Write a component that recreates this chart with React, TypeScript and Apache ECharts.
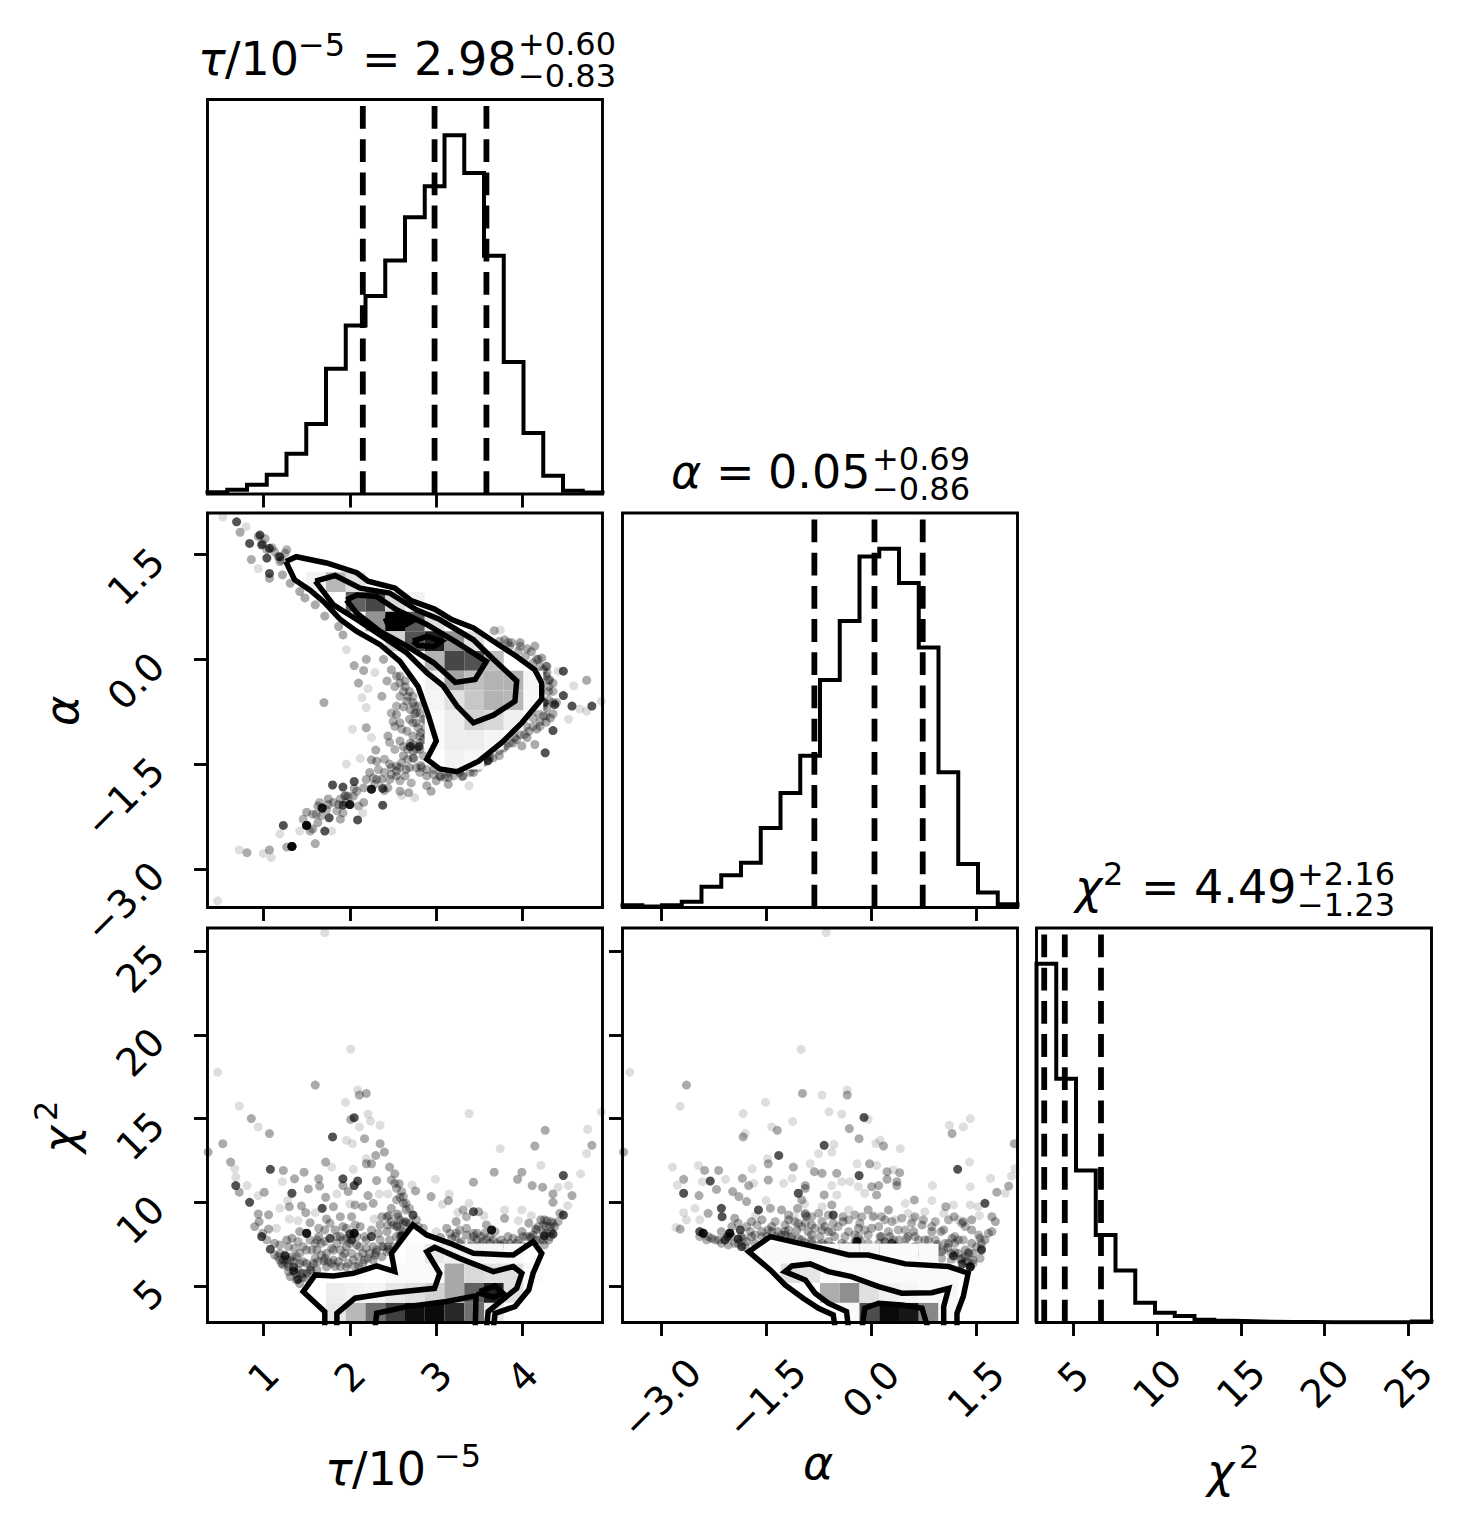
import React, { useEffect, useRef } from "react";
import * as echarts from "echarts";

const FONT = "DejaVu Sans";
const tauRange = [0.353, 4.923];
const alphaRange = [-3.555, 2.096];
const chiRange = [2.82, 26.38];
const chiRangeX = [2.8, 26.38];
const tauTicks = [1, 2, 3, 4];
const alphaTicks = [-3, -1.5, 0, 1.5];
const chiTicks = [5, 10, 15, 20, 25];

const tauHist = [0.5, 1.2, 2.6, 5.4, 11.2, 19.5, 34.9, 47, 55.2, 65.1, 77.2, 85.8, 100, 89.5, 66.4, 36.8, 17, 5.1, 0.9, 0.4];
const alphaHist = [0.6, 0.3, 0.6, 1.6, 5.8, 9, 12.5, 22.2, 31.9, 42.3, 63.4, 79.9, 97.9, 100, 90.5, 72.5, 37.7, 12.1, 4.2, 0.9];
const chiHist = [100, 68, 42.4, 24.4, 14.5, 5.5, 2.7, 1.8, 0.8, 0.5, 0.35, 0.2, 0.15, 0.15, 0.1, 0.1, 0.05, 0.05, 0.05, 0.3];
const tauQuantiles = [2.15, 2.98, 3.58];
const alphaQuantiles = [-0.81, 0.05, 0.74];
const chiQuantiles = [3.26, 4.49, 6.65];

const taFaint = [[0.53,2.04],[0.94,1.3],[1.96,0.14],[2.21,-0.42],[2.29,-0.19],[2.19,-0.69],[2.03,-1.0],[2.25,-1.12],[2.12,-1.42],[1.96,-1.5],[2.75,-1.98],[3.38,-1.81],[4.53,-0.86],[4.74,-0.74],[4.66,-0.71],[4.59,-0.38],[4.91,-0.6],[4.41,-0.17],[3.74,0.42],[1.79,-2.46],[1.42,-2.46],[1.19,-2.5],[0.72,-2.73],[1.0,-2.78],[1.09,-2.84],[0.47,-3.46],[2.15,-2.2],[2.14,-0.55],[2.6,-1.95],[0.8,1.9]];
const taMid = [[0.73,1.82],[0.86,1.43],[1.07,1.16],[1.22,1.21],[1.31,1.09],[1.42,0.97],[1.48,0.88],[1.6,0.78],[1.71,0.62],[1.87,0.47],[1.92,0.35],[2.05,-0.09],[2.16,-0.16],[2.1,-0.34],[2.19,0],[2.39,0],[2.43,-0.31],[2.37,-0.53],[1.7,-0.62],[2.19,-0.98],[2.44,-1.1],[2.3,-1.3],[2.25,-1.44],[2.31,-1.46],[2.48,-0.15],[2.54,-0.24],[2.58,-0.34],[2.64,-0.39],[2.69,-0.46],[2.73,-0.62],[2.66,-0.6],[2.54,-0.79],[2.58,-0.91],[2.69,-0.86],[2.77,-0.91],[2.66,-1.03],[2.73,-1.1],[2.81,-1.19],[2.77,-1.29],[2.85,-1.15],[2.58,-1.17],[2.62,-1.38],[2.54,-1.53],[2.46,-1.5],[2.54,-1.67],[2.64,-1.67],[2.58,-1.89],[2.68,-1.91],[2.46,-1.72],[2.37,-1.72],[2.23,-1.62],[2.31,-1.72],[2.16,-1.84],[2.19,-1.72],[2.77,-1.55],[2.89,-1.67],[2.89,-1.81],[2.94,-1.89],[3.0,-1.74],[3.14,-1.69],[3.14,-1.79],[3.27,-1.62],[3.43,-1.62],[3.54,-1.48],[3.66,-1.41],[3.78,-1.27],[3.99,-1.24],[4.14,-1.22],[3.91,-1.12],[4.07,-1.03],[4.16,-1.0],[4.2,-0.89],[4.32,-0.84],[4.28,-0.69],[4.39,-0.62],[4.74,-0.3],[4.35,-0.34],[4.3,-0.46],[4.24,-0.15],[4.22,0.02],[4.1,0.11],[4.14,0.19],[3.97,0.24],[3.87,0.24],[3.79,0.28],[3.67,0.41],[4.22,-0.24],[1.87,-2.08],[1.81,-2.05],[1.63,-2.1],[2.04,-1.96],[2.16,-2.05],[1.89,-2.29],[1.63,-2.34],[1.5,-2.19],[1.57,-2.43],[1.6,-2.64],[1.27,-2.69],[1.07,-2.73],[0.81,-2.77],[2.7,-0.72],[2.75,-0.78],[2.62,-0.68],[2.7,-1.2],[2.82,-1.05],[2.62,-1.25],[2.74,-1.42],[2.69,-1.55],[2.82,-1.52],[3.05,-1.68],[3.3,-1.68],[3.6,-1.38],[3.85,-1.2],[4.05,-1.12],[4.27,-0.9],[4.35,-0.78],[4.3,-0.3],[4.28,-0.1],[4.18,0.0],[4.05,0.15],[2.4,-1.88],[2.05,-1.85],[1.95,-1.95],[1.75,-2.0]];
const taDark = [[0.69,1.97],[0.96,1.78],[1.07,1.59],[0.84,1.66],[1.19,1.47],[1.07,1.23],[0.98,1.64],[1.04,1.45],[4.47,-0.17],[4.47,-0.52],[4.8,-0.67],[4.35,-1.02],[4.26,-1.34],[4.37,-0.65],[4.57,-0.67],[2.25,-1.86],[2.25,-1.86],[2.38,-1.85],[2.0,-2.08],[2.0,-2.08],[1.92,-2.09],[1.68,-2.13],[1.68,-2.13],[2.09,-2.3],[1.76,-2.27],[1.5,-2.38],[1.5,-2.38],[1.5,-2.38],[1.33,-2.68],[1.33,-2.68],[1.33,-2.68],[1.23,-2.38],[2.05,-1.75],[1.92,-1.83],[1.8,-1.8],[1.71,-2.46],[2.38,-2.09],[2.8,-1.25],[2.7,-1.25],[3.6,-1.45],[4.25,-0.62]];
const taBand = [[0.99,1.66],[1.04,1.57],[1.13,1.54],[1.17,1.47],[1.21,1.42],[1.25,1.52],[0.94,1.76],[1.02,1.73],[1.1,1.6],[1.19,1.4],[1.27,1.57],[3.73,0.26],[3.85,0.19],[3.95,0.12],[4.03,0.04],[4.12,-0.05],[4.2,-0.1],[4.28,-0.19],[4.31,-0.29],[4.3,-0.39],[4.35,-0.46],[4.3,-0.58],[4.24,-0.67],[4.18,-0.77],[4.12,-0.84],[4.24,-0.81],[4.12,-0.96],[4.04,-0.96],[3.97,-1.08],[3.89,-1.2],[3.81,-1.24],[3.73,-1.31],[3.58,-1.46],[3.49,-1.55],[3.39,-1.62],[3.31,-1.67],[3.2,-1.67],[3.1,-1.69],[2.97,-1.65],[2.89,-1.58],[2.83,-1.55],[2.52,-0.39],[2.58,-0.53],[2.62,-0.46],[2.67,-0.53],[2.75,-0.67],[2.81,-0.77],[2.85,-0.86],[2.79,-0.98],[2.87,-0.98],[2.73,-1.22],[2.67,-1.29],[2.73,-1.41],[2.6,-1.48],[2.65,-1.58],[2.54,-1.6],[2.48,-1.65],[2.4,-1.62],[2.58,-1.74],[2.71,-1.77],[2.81,-1.62],[2.5,-0.89],[2.48,-0.77],[2.54,-0.67],[2.6,-1.0],[2.52,-0.96],[2.46,-1.19],[2.52,-1.29],[2.4,-1.43],[2.33,-1.58],[2.27,-1.7],[2.44,-1.84],[2.29,-1.79],[2.08,-1.89],[1.98,-1.96],[2.1,-2.1],[1.85,-2.17],[1.75,-2.08],[1.57,-2.22],[1.67,-2.24],[1.92,-2.2],[1.46,-2.29],[1.54,-2.46],[2.58,-0.24],[2.64,-0.31],[2.73,-0.53],[2.79,-0.67],[2.77,-0.77],[2.87,-0.86],[2.73,-0.91],[2.81,-1.1],[2.89,-1.1],[2.93,-1.19],[2.81,-1.29],[2.85,-1.38],[2.73,-1.31],[2.67,-1.43],[2.58,-1.55],[2.48,-1.55],[2.97,-1.58],[3.04,-1.67],[3.14,-1.62],[3.43,-1.55],[3.62,-1.41],[3.73,-1.38],[3.93,-1.15],[4.02,-1.08],[4.2,-0.96],[4.27,-0.81],[4.35,-0.62],[4.27,-0.24],[4.27,-0.1],[4.16,0.0],[3.97,0.19],[3.83,0.24],[1.94,-1.96],[1.89,-2.0],[1.96,-2.05],[1.65,-2.05],[1.73,-2.15],[1.61,-2.22]];

const tcFaint = [[1.71,26.1],[2.01,19.15],[0.47,17.76],[0.72,15.75],[0.94,14.5],[0.67,12.0],[0.68,11.5],[0.81,11.0],[0.94,10.4],[1.15,8.45],[1.22,11.23],[1.28,10.1],[1.19,9.64],[1.6,9.38],[1.79,12.1],[1.96,13.7],[2.03,13.5],[1.95,15.97],[2.09,16.7],[2.21,15.27],[2.24,14.85],[2.11,14.5],[2.35,14.6],[2.19,12.6],[2.04,11.97],[1.85,10.5],[2.44,10.5],[2.34,10.5],[2.72,11.03],[2.99,11.37],[3.07,9.88],[3.15,10.5],[3.38,9.94],[3.38,15.3],[3.74,13.2],[4.21,12.2],[4.41,10.9],[4.53,11.0],[4.67,11.7],[4.74,12.9],[4.75,14.36],[4.91,15.4],[4.52,9.8],[3.0,8.25],[3.79,9.54],[3.99,9.54],[2.28,9.0],[2.0,9.9],[1.3,9.0],[1.4,8.9],[3.25,9.4],[3.55,9.2],[4.1,9.2],[3.95,8.9]];
const tcMid = [[1.6,17.0],[0.86,15.0],[1.07,14.1],[0.53,13.5],[0.36,13.0],[0.62,12.4],[0.72,10.6],[1.01,10.6],[0.94,9.3],[1.06,9.25],[0.9,8.55],[0.95,8.85],[1.06,8.4],[1.13,7.55],[1.19,6.95],[1.23,6.55],[1.27,7.75],[1.33,7.85],[1.38,6.75],[1.46,6.45],[1.29,6.15],[1.21,6.35],[1.37,5.76],[1.42,5.15],[1.5,5.76],[1.31,5.56],[1.5,6.35],[1.23,11.9],[1.36,11.4],[1.47,11.8],[1.52,10.8],[1.3,9.74],[1.44,9.78],[1.49,9.38],[1.64,11.4],[1.65,10.97],[1.72,12.4],[2.17,13.8],[2.11,16.4],[2.19,16.5],[2.01,14.95],[2.35,13.5],[2.4,13.0],[2.3,12.8],[2.19,12.3],[2.25,12.3],[1.92,11.0],[1.98,10.64],[1.72,10.3],[1.73,9.0],[1.81,9.74],[1.89,9.14],[2.02,9.14],[2.06,9.84],[2.15,9.74],[2.21,10.4],[2.31,11.3],[2.46,12.1],[2.52,11.7],[2.57,11.1],[2.58,10.3],[2.27,9.94],[2.37,9.14],[2.48,9.64],[2.62,9.94],[2.65,9.54],[2.58,8.94],[2.76,10.68],[2.94,10.34],[3.14,10.1],[3.43,11.2],[3.67,11.8],[3.94,11.37],[3.99,11.8],[4.11,11.0],[4.14,13.36],[4.26,14.3],[4.23,10.9],[4.35,10.5],[4.35,10.0],[4.57,10.4],[4.8,13.4],[4.43,9.34],[1.54,8.78],[1.64,7.95],[1.42,8.25],[1.89,7.95],[2.12,8.55],[2.39,7.35],[2.27,7.35],[2.15,6.95],[2.04,6.55],[1.92,6.75],[1.81,6.55],[1.73,6.95],[1.62,7.15],[1.58,6.35],[1.81,7.15],[1.96,7.35],[2.08,7.45],[2.19,7.75],[2.43,8.25],[2.54,7.95],[2.62,8.25],[2.35,8.65],[1.92,8.55],[1.71,8.35],[1.83,8.35],[2.17,6.55],[2.27,6.55],[2.37,6.75],[2.46,7.75],[2.58,7.55],[1.96,6.15],[1.73,6.15],[1.62,5.96],[3.12,8.45],[3.23,8.85],[3.35,8.05],[3.49,9.44],[3.58,8.65],[3.52,7.95],[3.62,7.55],[3.75,7.75],[3.83,7.95],[3.89,7.35],[3.99,8.25],[4.07,8.75],[3.79,9.04],[4.21,8.95],[4.27,8.55],[4.33,8.25],[4.24,8.15],[4.37,8.55],[4.2,7.75],[4.3,7.75],[3.27,7.55],[3.43,7.95],[3.18,7.85],[3.5,7.45],[3.7,7.25],[3.39,7.35],[1.35,6.1],[1.45,5.5],[1.55,5.9],[1.27,6.6],[1.7,6.5],[2.1,6.2],[2.3,7.0],[2.45,7.2],[2.55,8.6],[2.65,8.8],[2.55,9.3],[2.45,9.2],[3.05,7.9],[3.3,7.3],[3.6,7.1],[3.8,7.3],[4.0,7.4],[4.1,7.9],[4.28,8.9],[4.15,8.4]];
const tcDark = [[0.68,11.0],[0.84,10.0],[0.98,7.95],[1.08,7.2],[1.08,11.97],[1.33,10.54],[1.8,13.9],[2.05,15.05],[1.92,11.4],[2.09,11.27],[2.05,11.0],[1.68,9.64],[2.73,9.24],[3.43,9.44],[3.64,8.35],[4.47,11.6],[4.47,9.24],[1.5,8.15],[1.5,8.15],[1.77,7.85],[2.05,8.15],[2.05,8.15],[2.0,8.1],[2.02,7.75],[2.25,7.95],[3.64,8.35],[1.4,5.4],[1.35,5.9],[1.25,6.8],[2.6,8.0],[4.25,8.0],[4.35,8.1]];
const tcBand = [[1.17,6.75],[1.25,6.85],[1.33,6.75],[1.42,6.95],[1.5,7.15],[1.27,6.35],[1.35,6.15],[1.42,6.35],[1.29,5.86],[1.38,5.36],[1.44,5.76],[1.54,5.96],[1.63,6.45],[1.71,6.65],[1.79,6.35],[1.87,6.45],[1.94,6.95],[2.02,6.95],[2.1,6.75],[2.23,6.95],[2.31,7.15],[2.43,7.05],[2.5,7.35],[2.35,7.75],[2.17,7.95],[2.08,7.95],[1.96,7.85],[1.85,7.55],[1.67,7.55],[1.6,7.55],[1.54,7.75],[1.19,7.45],[1.04,7.75],[0.99,8.15],[2.48,8.85],[2.56,9.14],[2.64,8.85],[2.69,8.75],[2.58,8.35],[2.5,8.65],[2.69,8.35],[2.77,8.95],[2.85,8.45],[2.43,9.14],[2.52,11.13],[2.54,10.83],[2.6,10.64],[2.62,10.34],[2.65,9.94],[2.69,9.64],[2.54,10.14],[2.48,11.33],[3.16,8.15],[3.27,8.35],[3.35,8.45],[3.43,8.15],[3.47,7.75],[3.58,7.75],[3.66,7.75],[3.74,7.45],[3.83,7.35],[3.93,7.55],[4.04,7.95],[4.12,8.05],[4.18,8.55],[4.25,8.95],[4.33,8.85],[4.41,8.85],[4.32,7.95],[4.25,7.45],[3.31,9.54],[3.35,9.14],[3.23,8.15],[1.13,6.85],[1.19,6.55],[1.23,6.26],[1.31,6.55],[1.36,6.45],[1.4,5.96],[1.46,5.76],[1.5,5.46],[1.55,6.16],[1.6,6.65],[1.67,6.85],[1.75,6.45],[1.83,6.16],[1.89,6.16],[1.98,6.35],[2.06,6.16],[2.15,6.35],[2.21,6.65],[2.29,6.85],[2.37,7.35],[2.44,7.35],[2.52,6.95],[2.58,7.95],[2.64,7.75],[2.67,7.95],[2.73,8.55],[2.79,8.55],[2.19,7.25],[2.11,7.35],[2.0,7.55],[1.89,7.15],[1.79,7.25],[1.71,7.65],[1.62,7.75],[1.56,7.15],[1.46,7.35],[1.4,7.65],[1.36,7.25],[1.29,7.35],[1.92,7.75],[1.85,7.95],[2.25,8.35],[2.33,8.15],[2.44,8.65],[2.54,8.55],[2.62,8.75],[2.06,8.65],[1.96,8.45],[1.77,8.75],[1.64,8.45],[3.22,7.95],[3.29,7.65],[3.41,7.65],[3.54,7.65],[3.62,7.95],[3.7,7.55],[3.79,7.55],[3.85,7.55],[3.95,7.75],[4.08,7.95],[4.16,8.35],[4.24,8.65],[4.32,8.55],[4.35,8.75],[4.27,8.15],[4.24,7.75],[4.16,7.75],[3.47,8.15],[3.56,8.15],[3.68,8.25],[3.89,7.85],[4.0,7.95]];

const acFaint = [[-3.45,17.76],[-2.73,15.73],[-1.0,19.13],[-0.64,26.1],[-2.84,12.1],[-2.47,12.2],[-2.77,11.03],[-2.41,11.23],[-2.08,11.37],[-1.68,11.13],[-1.8,14.1],[-1.83,15.3],[-1.42,14.5],[-1.51,15.97],[-1.12,14.83],[-1.48,12.6],[-1.7,12.0],[-0.7,16.4],[-0.34,16.7],[-0.6,15.4],[-0.42,15.27],[-0.04,14.95],[-0.53,13.46],[-0.75,12.9],[-0.56,13.0],[0.07,13.5],[0.13,13.7],[0.42,13.2],[1.12,14.6],[1.32,14.5],[1.42,15.0],[1.41,12.4],[2.06,12.0],[2.01,11.57],[1.71,11.43],[1.42,10.93],[0.88,11.0],[0.32,11.93],[0.08,12.2],[-0.2,12.3],[-0.18,10.93],[-0.09,10.54],[-0.87,12.3],[-1.13,11.43],[-1.25,11.13],[-0.56,11.0],[-0.42,11.23],[-0.3,11.23],[-0.49,10.44],[0.49,9.94],[0.87,10.1],[1.18,9.84],[1.42,9.84],[1.53,9.74],[1.92,10.54],[1.04,9.34],[0.77,9.44],[0.53,9.34],[-0.32,9.54],[-0.7,9.74],[-2.52,9.64],[-2.68,9.38],[-2.64,8.95],[-2.79,8.5],[-2.45,8.95],[-0.95,9.9],[-1.1,9.2],[0.05,9.2],[0.35,8.95],[0.6,9.0],[1.55,9.2],[1.25,8.95],[-1.65,9.2],[-1.5,10.1]];
const acMid = [[-2.64,17.0],[-3.54,13.0],[-2.38,11.9],[-2.18,11.9],[-2.68,11.37],[-2.21,10.77],[-2.46,10.4],[-1.98,10.64],[-1.89,10.34],[-1.84,11.43],[-1.75,11.0],[-1.83,13.9],[-1.34,14.3],[-1.47,12.3],[-1.11,12.1],[-1.47,11.33],[-0.98,16.5],[-0.34,16.4],[-0.31,14.4],[-0.17,13.8],[0.18,13.36],[1.16,14.1],[2.05,13.5],[1.97,10.97],[0.41,11.77],[0.23,11.83],[0.23,11.37],[0.37,11.23],[0.37,11.0],[0.11,11.0],[0.01,10.93],[0.08,10.44],[-0.02,12.3],[-0.81,11.83],[-0.7,11.73],[-0.94,11.0],[-0.94,10.83],[-0.67,10.44],[-0.49,11.73],[0.62,10.14],[1.07,9.74],[1.8,10.6],[1.73,9.14],[1.78,8.85],[1.44,8.95],[1.32,8.85],[1.19,9.14],[0.25,9.54],[-0.04,9.54],[-0.56,9.84],[-0.99,10.14],[-1.05,9.64],[-1.28,9.54],[-1.44,9.64],[-1.78,10.04],[-2.33,9.34],[-2.73,8.4],[-2.28,7.85],[-2.14,8.25],[-1.86,7.95],[-1.99,8.55],[-1.95,9.05],[-1.71,7.95],[-1.71,8.85],[-1.56,8.95],[-1.42,8.55],[-1.56,8.25],[-1.33,8.25],[-1.23,8.25],[-1.06,8.35],[-0.9,8.25],[-0.7,8.35],[-0.94,9.24],[-1.18,8.95],[-0.85,8.65],[-0.66,8.55],[-0.52,7.95],[-0.4,8.85],[-0.18,8.45],[0.01,8.45],[0.13,7.95],[0.27,7.95],[0.25,7.25],[0.4,7.75],[0.51,7.85],[0.73,8.65],[0.61,8.25],[0.87,8.25],[1.04,8.35],[1.16,7.85],[1.25,7.75],[1.35,7.15],[1.44,7.55],[1.63,7.75],[1.46,6.55],[1.35,6.45],[0.92,6.95],[0.82,7.75],[0.63,6.95],[0.49,7.15],[0.11,7.55],[-0.09,7.25],[-0.42,7.55],[-0.61,7.65],[-0.85,7.75],[-1.04,7.85],[-1.23,8.05],[-1.47,8.35],[-1.66,7.55],[-1.78,7.65],[1.3,8.75],[1.73,8.25],[1.56,7.85],[1.44,8.35],[1.01,7.05],[-1.3,7.75],[-1.15,7.9],[-0.95,7.6],[-0.75,7.45],[-0.55,7.35],[-0.3,7.25],[-0.15,7.7],[0.02,7.15],[0.2,7.6],[0.35,7.4],[0.6,7.3],[0.75,7.1],[0.95,7.5],[1.1,7.3],[1.2,7.0],[1.28,6.6],[1.4,7.0]];
const acDark = [[-2.3,11.27],[-2.68,10.54],[-1.32,12.8],[-0.1,15.07],[-0.67,13.4],[1.24,11.97],[-0.17,11.6],[-1.04,10.54],[1.63,9.94],[-1.61,9.54],[-2.14,9.64],[-2.13,9.14],[-2.4,8.15],[-2.4,8.15],[-2.45,8.25],[-2.02,8.15],[-2.02,8.15],[-2.09,7.75],[-1.87,8.35],[-1.85,7.35],[-0.54,9.24],[-0.2,7.65],[1.18,6.8],[1.58,7.15],[1.42,6.15],[1.42,6.15],[-2.05,7.95],[-1.9,7.8],[-0.2,7.65],[0.3,7.55],[1.3,6.3]];
const acBand = [[-1.42,8.25],[-1.28,8.05],[-1.13,7.95],[-0.99,7.75],[-0.85,7.55],[-0.7,7.55],[-0.56,7.35],[-0.42,7.15],[-0.28,7.35],[-0.13,7.15],[0.01,7.15],[0.15,6.95],[0.3,7.05],[0.44,6.85],[0.58,6.65],[0.73,6.95],[0.87,6.75],[1.01,6.65],[1.15,6.55],[1.3,6.65],[1.39,6.45],[1.46,6.95],[1.58,7.25],[-1.37,8.85],[-1.23,8.65],[-1.09,8.85],[-0.94,8.75],[-0.8,8.45],[-0.61,8.25],[-0.47,8.55],[-0.32,8.25],[-0.23,8.05],[-0.09,8.35],[0.11,8.55],[0.25,8.25],[0.39,8.35],[0.53,7.95],[0.68,7.75],[0.77,7.75],[0.92,7.75],[1.06,7.55],[1.2,7.55],[1.32,7.75],[1.54,8.05],[1.68,8.15],[-0.94,9.34],[-0.85,9.14],[-0.75,9.34],[-0.61,9.24],[-0.4,9.14],[-0.23,9.24],[-0.13,9.14],[0.15,9.14],[0.3,8.85],[0.44,9.05],[0.63,9.14],[-1.8,7.35],[-1.95,7.55],[-2.04,7.45],[-2.18,7.75],[-2.33,7.95],[-1.9,8.75],[-1.78,8.55],[-1.63,8.65],[-1.49,7.95],[-2.45,7.95],[-2.35,7.75],[-2.23,7.75],[-2.14,7.55],[-1.99,7.95],[-1.9,7.55],[-1.83,7.85],[-1.73,8.25],[-1.66,8.05],[-1.56,7.95],[-1.37,7.95],[-1.3,7.75],[-1.21,7.55],[-1.06,7.45],[-0.92,7.35],[-0.8,7.25],[-0.66,7.45],[-0.51,7.15],[-0.37,7.45],[-0.23,7.65],[-0.18,7.25],[-0.04,7.55],[0.08,7.25],[0.2,7.65],[0.34,7.25],[0.49,7.45],[0.63,7.35],[0.77,7.25],[0.94,7.35],[1.11,7.55],[1.25,6.95],[1.35,6.75],[1.46,6.35],[1.39,6.95],[1.51,7.35],[1.56,6.65],[1.58,7.55],[-1.18,8.35],[-0.99,8.55],[-0.85,8.05],[-0.73,7.95],[-0.56,8.25],[-0.37,7.95],[-0.18,7.95],[-0.04,8.05],[0.15,7.95],[0.32,7.75],[0.49,8.35],[0.63,7.95],[0.87,8.55],[1.0,8.25],[1.2,7.95],[1.35,8.55],[1.15,6.95],[1.04,7.15],[0.85,6.95],[0.65,6.85],[0.53,6.95],[0.34,6.75],[0.11,7.05],[-1.18,9.24],[-1.04,8.75],[-0.92,9.14],[-0.7,8.85],[-0.54,8.75],[-0.32,8.95],[-0.16,8.75],[0.03,9.14],[0.2,8.95],[0.58,8.75],[0.75,8.95],[0.92,8.85],[1.11,8.95]];

const taOuter = [[1.26,1.40],[1.38,1.47],[1.73,1.38],[2.08,1.24],[2.21,1.12],[2.52,1.02],[2.71,0.84],[2.98,0.72],[3.18,0.57],[3.43,0.45],[3.66,0.26],[3.93,0.04],[4.14,-0.15],[4.22,-0.34],[4.22,-0.57],[3.99,-0.91],[3.76,-1.19],[3.49,-1.46],[3.24,-1.61],[3.04,-1.57],[2.89,-1.43],[3.0,-1.17],[2.91,-0.81],[2.79,-0.39],[2.58,-0.03],[2.35,0.21],[2.08,0.40],[1.89,0.57],[1.71,0.81],[1.54,0.99],[1.36,1.14]];
const taMiddle = [[1.60,1.12],[1.83,1.20],[2.12,1.02],[2.46,0.95],[2.77,0.71],[3.04,0.57],[3.43,0.28],[3.66,0.0],[3.93,-0.31],[3.91,-0.60],[3.66,-0.80],[3.43,-0.91],[3.24,-0.67],[3.08,-0.38],[2.89,-0.19],[2.66,0.09],[2.35,0.35],[2.08,0.57],[1.81,0.78]];
const taInner = [[1.96,0.85],[2.08,0.92],[2.31,0.90],[2.54,0.71],[2.89,0.50],[3.24,0.24],[3.58,-0.03],[3.45,-0.29],[3.22,-0.33],[2.97,-0.05],[2.66,0.19],[2.35,0.40],[2.08,0.66]];
const taBlobA = [[2.41,0.59],[2.58,0.61],[2.71,0.54],[2.58,0.45],[2.44,0.50]];
const taBlobB = [[2.73,0.26],[2.89,0.33],[3.06,0.26],[2.97,0.18],[2.79,0.20]];

const tcOuter = [[1.71,2.4],[1.71,3.47],[1.46,4.66],[1.6,5.66],[1.81,5.6],[2.04,5.76],[2.31,6.2],[2.52,5.86],[2.48,6.95],[2.73,8.65],[2.89,8.05],[3.16,7.55],[3.43,6.95],[3.89,6.85],[4.12,7.65],[4.22,6.95],[4.12,5.76],[4.07,4.77],[3.91,3.77],[3.68,3.37],[3.66,2.4]];
const tcMiddle = [[1.85,2.4],[1.85,3.37],[2.06,4.27],[2.43,4.57],[2.98,4.86],[3.04,5.76],[2.89,7.05],[2.98,7.31],[3.27,6.65],[3.66,5.86],[3.89,6.16],[3.99,5.76],[3.93,4.86],[3.74,4.07],[3.6,3.47],[3.58,2.4]];
const tcInner = [[2.29,2.4],[2.31,3.37],[2.66,3.77],[3.12,4.07],[3.46,4.41],[3.45,2.4]];
const tcBlob = [[3.5,4.67],[3.68,5.0],[3.77,4.57],[3.66,4.33],[3.5,4.57]];

const acOuter = [[-0.51,2.4],[-0.54,3.27],[-0.75,3.67],[-0.97,4.27],[-1.23,5.06],[-1.44,5.96],[-1.75,7.05],[-1.44,7.95],[-1.13,7.65],[-0.70,7.25],[-0.32,6.85],[-0.04,6.85],[0.49,6.32],[1.11,6.16],[1.39,5.76],[1.32,4.37],[1.23,3.37],[1.23,2.4]];
const acMiddle = [[-0.32,2.4],[-0.35,3.47],[-0.61,3.97],[-0.8,4.57],[-0.94,5.36],[-1.23,5.86],[-1.13,6.2],[-0.87,6.32],[-0.61,5.86],[-0.28,5.56],[0.11,4.96],[0.44,4.57],[0.87,4.6],[1.11,4.86],[1.04,3.77],[1.04,2.4]];
const acInner = [[-0.13,2.4],[-0.09,3.67],[0.11,3.97],[0.44,3.87],[0.73,3.67],[0.82,2.4]];

// [column bin, row bin counted from the bottom, darkness %]
const taCells = [[5,16,5],[6,16,28],[7,16,12],[7,15,62],[8,15,72],[9,15,15],[10,15,5],[8,14,42],[9,14,100],[10,14,65],[11,14,12],[9,13,18],[10,13,68],[11,13,88],[12,13,42],[13,13,12],[11,12,30],[12,12,72],[13,12,68],[14,12,25],[11,11,6],[12,11,36],[13,11,25],[14,11,30],[15,11,30],[16,11,4],[11,10,4],[12,10,12],[13,10,22],[14,10,30],[15,10,28],[16,10,3],[11,9,2],[12,9,7],[13,9,18],[14,9,15],[15,9,6],[11,8,2],[12,8,7],[13,8,7],[14,8,4],[12,7,5],[13,7,3]];
const tcCells = [[6,0,9],[7,0,28],[8,0,56],[9,0,75],[10,0,94],[11,0,96],[12,0,84],[13,0,56],[14,0,9],[6,1,7],[7,1,5],[8,1,4],[9,1,9],[10,1,12],[11,1,18],[12,1,34],[13,1,62],[14,1,88],[15,1,12],[9,2,2],[10,2,2],[11,2,2],[12,2,34],[13,2,15],[14,2,12],[15,2,12],[16,2,2],[10,3,2],[11,3,9],[12,3,6],[13,3,4],[14,3,3],[15,3,2]];
const acCells = [[11,0,2],[12,0,70],[13,0,96],[14,0,91],[15,0,47],[16,0,3],[10,1,32],[11,1,44],[12,1,12],[13,1,6],[14,1,4],[15,1,2],[16,1,3],[8,2,12],[9,2,10],[10,2,2],[11,2,2],[12,2,2],[13,2,2],[14,2,2],[15,2,2],[16,2,2],[7,3,2],[8,3,2],[9,3,2],[10,3,2],[11,3,3],[12,3,3],[13,3,2],[14,3,2],[15,3,2]];

const colX = [207.5, 622.5, 1036.5];
const rowY = [99.5, 513, 928];
const PW = 395;
const PH = 394.5;

const closed = (a: number[][]) => [...a, a[0]];
const fmtAlpha = (v: number) => v.toFixed(1).replace("-", "\u2212");

const txt = (text: string, x: number, base: number, fs: number, italic = false) => ({
  type: "text", x, y: base - 0.346 * fs, silent: true, z: 60,
  style: { text, x: 0, y: 0, fontFamily: FONT, fontSize: fs, fontStyle: italic ? "italic" : "normal", fill: "#000", textAlign: "left", textVerticalAlign: "middle", align: "left", verticalAlign: "middle" },
});
const vtxt = (text: string, start: number, base: number, fs: number, italic = false) => ({
  type: "text", x: base - 0.346 * fs, y: start, rotation: Math.PI / 2, silent: true, z: 60,
  style: { text, x: 0, y: 0, fontFamily: FONT, fontSize: fs, fontStyle: italic ? "italic" : "normal", fill: "#000", textAlign: "left", textVerticalAlign: "middle", align: "left", verticalAlign: "middle" },
});

const BIG = 46;
const SMALL = 32;
const TICK = 38.5;

function buildOption() {
  const grids: any[] = [];
  const xAxes: any[] = [];
  const yAxes: any[] = [];
  const series: any[] = [];
  const graphic: any[] = [];

  const tickStyle = { show: true, length: 13.5, lineStyle: { color: "#000", width: 2.9 } };

  const addPanel = (c: number, r: number, xr: number[], yr: number[], xTicks: number[], yTicks: number[] | null, xLabel: ((v: number) => string) | null, yLabel: ((v: number) => string) | null, xPad: (s: string) => string = () => "p0") => {
    const idx = grids.length;
    grids.push({ left: colX[c], top: rowY[r], width: PW, height: PH, show: false });
    const rich: any = {};
    [["p0", 0], ["p10", 10], ["p18", 18], ["p31", 31]].forEach(([k, p]) => {
      rich[k as string] = { fontFamily: FONT, fontSize: TICK, color: "#000", padding: [p as number, p as number, 0, 0] };
    });
    xAxes.push({
      type: "value", gridIndex: idx, min: xr[0], max: xr[1], position: "bottom",
      axisLine: { show: false, onZero: false }, splitLine: { show: false },
      axisTick: { ...tickStyle, customValues: xTicks },
      axisLabel: xLabel ? {
        show: true, customValues: xTicks, rotate: 45, align: "center", verticalAlign: "middle", margin: 54,
        hideOverlap: false, showMinLabel: true, showMaxLabel: true,
        formatter: (v: number) => { const s = xLabel(v); return `{${xPad(s)}|${s}}`; }, rich,
      } : { show: false },
    });
    yAxes.push({
      type: "value", gridIndex: idx, min: yr[0], max: yr[1], position: "left", show: !!yTicks,
      axisLine: { show: false, onZero: false }, splitLine: { show: false },
      axisTick: yTicks ? { ...tickStyle, customValues: yTicks } : { show: false },
      axisLabel: yLabel && yTicks ? {
        show: true, customValues: yTicks, rotate: 45, align: "right", verticalAlign: "middle", margin: 50,
        hideOverlap: false, showMinLabel: true, showMaxLabel: true,
        fontFamily: FONT, fontSize: TICK, color: "#000", formatter: (v: number) => yLabel(v),
      } : { show: false },
    });
    graphic.push({ type: "rect", silent: true, z: 50, shape: { x: colX[c], y: rowY[r], width: PW, height: PH }, style: { fill: "none", stroke: "#000", lineWidth: 2.9 } });
    return idx;
  };

  const addHist = (idx: number, xr: number[], vals: number[], qs: number[]) => {
    const w = (xr[1] - xr[0]) / vals.length;
    const pts: number[][] = [[xr[0], 0]];
    vals.forEach((v, i) => pts.push([xr[0] + i * w, v]));
    pts.push([xr[1], vals[vals.length - 1]]);
    pts.push([xr[1], 0]);
    series.push({ type: "line", xAxisIndex: idx, yAxisIndex: idx, data: pts, step: "end", showSymbol: false, symbol: "none", clip: true, silent: true, z: 3, lineStyle: { color: "#000", width: 4, join: "miter" } });
    qs.forEach((q) => series.push({
      type: "line", xAxisIndex: idx, yAxisIndex: idx, data: [[q, 0], [q, 110]], showSymbol: false, symbol: "none", silent: true, z: 4,
      lineStyle: { color: "#000", width: 5.8, type: [22.8, 10.4], cap: "butt" },
    }));
  };

  const addScatter = (idx: number, faint: number[][], mid: number[][], dark: number[][], band: number[][]) => {
    [[faint, 0.13], [band, 0.3], [mid, 0.33], [dark, 0.68]].forEach(([d, o]) => series.push({
      type: "scatter", xAxisIndex: idx, yAxisIndex: idx, data: d, symbol: "circle", symbolSize: 9, silent: true, z: 1, clip: true,
      itemStyle: { color: "#000", opacity: o },
    }));
  };

  const addDensity = (idx: number, xr: number[], yr: number[], outer: number[][], cells: number[][], lines: number[][][]) => {
    series.push({
      type: "custom", xAxisIndex: idx, yAxisIndex: idx, data: [[xr[0], yr[0]]], clip: true, silent: true, z: 2,
      renderItem: (_: any, api: any) => ({ type: "polygon", shape: { points: outer.map((p) => api.coord(p)) }, style: { fill: "#fff" } }),
    });
    const bw = (xr[1] - xr[0]) / 20;
    const bh = (yr[1] - yr[0]) / 20;
    series.push({
      type: "custom", xAxisIndex: idx, yAxisIndex: idx, clip: true, silent: true, z: 2.5,
      data: cells.map((c) => [xr[0] + c[0] * bw, yr[0] + c[1] * bh, c[2]]),
      renderItem: (_: any, api: any) => {
        const a = api.coord([api.value(0), api.value(1) + bh]);
        const b = api.coord([api.value(0) + bw, api.value(1)]);
        const g = Math.round(255 * (1 - api.value(2) / 100));
        return { type: "rect", shape: { x: a[0], y: a[1], width: b[0] - a[0], height: b[1] - a[1] }, style: { fill: `rgb(${g},${g},${g})` } };
      },
    });
    lines.forEach((l) => series.push({
      type: "line", xAxisIndex: idx, yAxisIndex: idx, data: l, showSymbol: false, symbol: "none", clip: true, silent: true, z: 3,
      lineStyle: { color: "#000", width: 5.5, join: "miter" },
    }));
  };

  const chiPad = (s: string) => (s.length > 1 ? "p10" : "p0");
  const alphaPad = (s: string) => (s.startsWith("\u2212") ? "p31" : "p18");
  const str = (v: number) => String(v);

  const i0 = addPanel(0, 0, tauRange, [0, 110], tauTicks, null, null, null);
  addHist(i0, tauRange, tauHist, tauQuantiles);

  const i1 = addPanel(0, 1, tauRange, alphaRange, tauTicks, alphaTicks, null, fmtAlpha);
  addScatter(i1, taFaint, taMid, taDark, taBand);
  addDensity(i1, tauRange, alphaRange, taOuter, taCells, [closed(taOuter), closed(taMiddle), closed(taInner), closed(taBlobA), closed(taBlobB)]);

  const i2 = addPanel(1, 1, alphaRange, [0, 110], alphaTicks, null, null, null);
  addHist(i2, alphaRange, alphaHist, alphaQuantiles);

  const i3 = addPanel(0, 2, tauRange, chiRange, tauTicks, chiTicks, str, str);
  addScatter(i3, tcFaint, tcMid, tcDark, tcBand);
  addDensity(i3, tauRange, chiRange, tcOuter, tcCells, [tcOuter, tcMiddle, tcInner, closed(tcBlob)]);

  const i4 = addPanel(1, 2, alphaRange, chiRange, alphaTicks, chiTicks, fmtAlpha, null, alphaPad);
  addScatter(i4, acFaint, acMid, acDark, acBand);
  addDensity(i4, alphaRange, chiRange, acOuter, acCells, [acOuter, acMiddle, acInner]);

  const i5 = addPanel(2, 2, chiRangeX, [0, 110], chiTicks, null, str, null, chiPad);
  addHist(i5, chiRangeX, chiHist, chiQuantiles);

  graphic.push(
    txt("\u03C4", 198, 75, BIG, true), txt("/10", 225, 75, BIG), txt("\u22125", 298, 56, SMALL),
    txt("=", 362, 75, BIG), txt("2.98", 414, 75, BIG), txt("+0.60", 518, 55, SMALL), txt("\u22120.83", 518, 87, SMALL),

    txt("\u03B1", 671, 488, BIG, true), txt("=", 716, 488, BIG), txt("0.05", 768, 488, BIG), txt("+0.69", 872, 470, SMALL), txt("\u22120.86", 872, 500, SMALL),

    txt("\u03C7", 1075, 903, BIG, true), txt("2", 1103, 885, SMALL), txt("=", 1141, 903, BIG), txt("4.49", 1194, 903, BIG), txt("+2.16", 1297, 885, SMALL), txt("\u22121.23", 1297, 916, SMALL),

    txt("\u03C4", 325, 1485, BIG, true), txt("/10", 352, 1485, BIG), txt("\u22125", 434, 1467, SMALL),
    txt("\u03B1", 803, 1479, BIG, true),
    txt("\u03C7", 1207, 1487, BIG, true), txt("2", 1239, 1468, SMALL),
    vtxt("\u03B1", 726, 78, BIG, true),
    vtxt("\u03C7", 1153, 76, BIG, true), vtxt("2", 1121, 57, SMALL),
  );

  return { animation: false, backgroundColor: "#fff", grid: grids, xAxis: xAxes, yAxis: yAxes, series, graphic };
}

export default function App() {
  const ref = useRef<HTMLDivElement>(null);
  useEffect(() => {
    document.body.style.margin = "0";
    const chart = echarts.init(ref.current!, undefined, { renderer: "svg" });
    chart.setOption(buildOption() as any);
    return () => chart.dispose();
  }, []);
  return <div ref={ref} style={{ width: 1471, height: 1530 }} />;
}
